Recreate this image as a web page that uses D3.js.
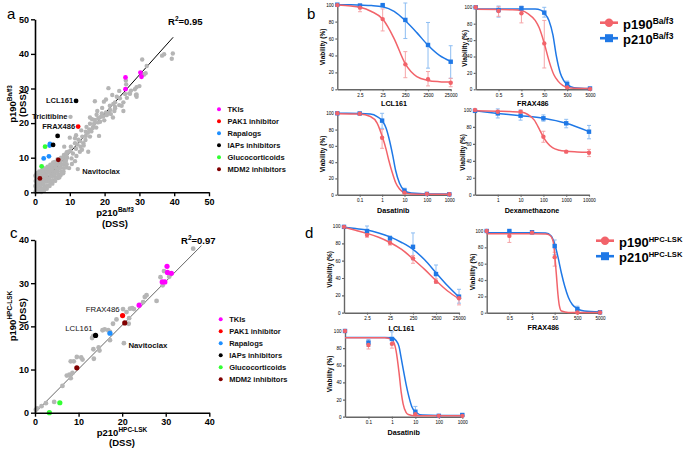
<!DOCTYPE html>
<html><head><meta charset="utf-8">
<script src="https://cdn.jsdelivr.net/npm/d3@7"></script>
<style>body{margin:0;background:#fff}</style>
</head><body><svg id="chart" width="685" height="449"></svg>
<script>
// ---------------- DATA ----------------
// Panel a : DSS p210 (x) vs p190 (y), Ba/f3
const aTicks = [0,10,20,30,40,50];
const aGray = [
[0.2,0.3],[0.4,1.1],[0.1,1.8],[0.5,2.6],[0.2,3.3],[0.4,4.1],[0.1,4.8],[0.5,5.5],[0.3,0.0],
[1.0,0.2],[1.1,1.0],[0.9,2.0],[1.2,2.8],[1.0,3.7],[1.1,4.5],[0.9,5.3],[1.2,6.0],
[1.8,0.1],[1.9,1.1],[1.7,2.1],[2.0,3.0],[1.8,4.0],[1.9,4.9],[1.7,5.8],[2.0,6.4],
[2.6,0.5],[2.7,1.5],[2.5,2.4],[2.8,3.5],[2.6,4.4],[2.7,5.4],[2.5,6.2],[2.8,6.9],
[3.4,1.0],[3.5,2.0],[3.3,3.1],[3.6,4.0],[3.4,5.0],[3.5,6.0],[3.3,6.8],[3.6,7.4],
[4.2,1.8],[4.3,2.9],[4.1,3.8],[4.4,4.8],[4.2,5.8],[4.3,6.6],[4.1,7.3],[4.4,8.0],
[5.0,2.5],[5.1,3.5],[4.9,4.6],[5.2,5.5],[5.0,6.4],[5.1,7.2],[4.9,8.0],[5.2,8.6],
[5.8,3.3],[5.9,4.3],[5.7,5.3],[6.0,6.2],[5.8,7.2],[5.9,8.0],[5.7,8.8],
[6.6,4.1],[6.7,5.1],[6.5,6.0],[6.8,7.0],[6.6,8.0],[6.7,8.9],[6.5,9.6],
[7.4,5.0],[7.5,6.0],[7.3,7.1],[7.6,8.0],[7.4,9.0],[7.5,10.0],
[8.2,6.0],[8.3,7.0],[8.1,8.0],[8.4,9.0],[8.2,10.0],[8.3,10.8],
[9.0,7.2],[9.1,8.1],[8.9,9.1],[9.2,10.0],[9.0,11.0],[9.1,11.6],
[8.1,5.5],[9.8,7.0],[10.6,8.2],[7.0,4.3],[11.5,9.0],
[9.6,11.7],[10.3,13.2],[11.5,14.2],[12.5,15.2],[13.1,13.2],[13.6,16.1],[14.6,17.5],[14.8,18.9],
[15.8,19.8],[16.8,19.1],[17.2,20.9],[18.2,21.4],[18.7,20.4],[17.7,22.4],[19.2,22.8],[20.4,23.1],
[19.6,21.9],[15.3,11.7],[13.9,14.2],[15.8,16.1],[12.9,11.7],[14.5,15.1],[11.5,15.6],[10.0,15.8],
[8.4,13.2],[9.1,10.3],[10.5,9.8],[11.9,10.5],[7.2,9.5],[10.2,12.0],[10.9,11.2],[11.8,12.6],
[12.2,13.8],[13.0,14.8],[13.5,12.3],[14.0,13.5],[14.6,16.3],[15.2,17.2],[15.6,18.2],[16.2,17.6],
[16.6,18.6],[17.0,19.9],[17.6,18.7],[18.1,20.2],[18.9,21.8],[19.9,20.8],[20.6,22.3],[21.2,22.9],
[16.4,21.1],[17.9,23.5],[19.3,24.4],[21.6,23.8],[23.0,24.3],[15.8,21.6],[11.8,16.5],[13.3,17.9],[18.4,16.3],
[21.1,30.1],[24.4,27.2],[25.4,26.0],[25.9,28.4],[24.9,25.0],[25.4,23.5],[23.0,26.0],[22.5,25.5],
[23.5,27.6],[24.2,25.2],[23.0,24.7],[20.4,26.8],[19.8,26.2],[21.5,25.0],[26.1,32.3],[26.2,31.2],
[27.1,28.6],[29.0,28.1],[29.2,30.4],[28.7,29.8],[30.0,30.7],[29.2,27.6],[27.3,28.5],[29.2,28.3],
[31.3,34.0],[30.8,34.2],[31.8,34.4],[32.1,36.5],[30.8,38.4],[36.5,39.5],[37.1,39.9],[39.6,40.1],
[39.3,38.6],[22.8,23.5],[21.8,22.6],[22.4,21.6],[26.4,27.3],[27.6,29.4],[17.2,26.3],[22.2,28.1],[24.2,29.3]
];
const aTKI = [[26.0,33.2],[26.0,29.8],[30.3,34.6],[30.6,33.4]];
const aPAK1 = [[12.4,19.0]];
const aRapa = [[4.3,14.0],[4.2,13.5],[2.5,9.8],[4.0,10.4]];
const aIAP = [[11.8,26.4],[6.5,16.3],[5.2,13.7]];
const aGluco = [[2.9,13.2],[1.9,7.5]];
const aMDM2 = [[6.7,9.4],[1.4,4.0]];
const aFit = [[0,0.3],[39.7,44.8]];
const aNamed = [{name:"LCL161",pt:[11.8,26.4],side:"left"},{name:"Tricitibine",pt:[10.2,21.8],side:"left",gray:true},
                {name:"FRAX486",pt:[12.4,19.0],side:"left"},{name:"Navitoclax",pt:[12.3,6.7],side:"right",gray:true}];

// Panel c : DSS p210 vs p190, HPC-LSK
const cTicks = [0,10,20,30,40];
const cGray = [
[36.3,38.0],[28.8,31.4],[30.8,31.5],[29.3,29.5],[27.9,25.9],[25.2,26.8],[24.8,25.6],[21.8,24.1],[22.3,24.2],
[22.7,24.0],[21.0,23.3],[18.7,21.6],[17.9,20.6],[21.5,20.6],[21.6,21.9],[15.5,19.1],[16.8,19.1],[17.2,18.7],
[13.1,17.3],[13.4,17.8],[17.2,16.8],[13.4,14.7],[14.6,15.1],[14.8,14.4],[13.5,12.5],[9.6,12.9],[10.9,12.3],
[10.6,12.8],[8.2,11.9],[8.9,11.9],[7.3,8.6],[7.9,8.8],[8.6,9.2],[8.2,8.0],[6.3,6.2],[4.4,2.5],[2.5,2.2],
[1.5,1.5],[0.2,0.7],[0.5,1.0],[29.6,32.8],[25.6,27.2],[20.2,24.0],[16.0,19.3]
];
const cTKI = [[30.3,33.9],[30.4,32.5],[31.3,32.3],[29.2,30.3],[29.8,30.3],[23.9,24.9]];
const cPAK1 = [[20.1,22.5]];
const cRapa = [[17.2,18.4]];
const cIAP = [[13.9,17.9]];
const cGluco = [[5.7,2.3],[3.3,0.0]];
const cMDM2 = [[20.6,20.8],[9.6,10.4]];
const cFit = [[0,0],[38.2,38.7]];
const cNamed = [{name:"FRAX486",pt:[20.1,22.5],side:"left"},{name:"LCL161",pt:[13.9,17.9],side:"left"},
                {name:"Navitoclax",pt:[20.4,16.1],side:"right",gray:true,bold:true}];

const groupNames = ["TKIs","PAK1 inhibitor","Rapalogs","IAPs inhibitors","Glucocorticoids","MDM2 inhibitors"];
const groupColors = ["#ff00ff","#ff0000","#1e8fff","#000000","#33ff33","#800000"];

// Dose-response panels (viability %, mean / low / high error; fitted curve)
const yTicksV = [0,20,40,60,80,100];
// b1 LCL161 (Ba/f3)
const b1Doses = [0,2.5,25,250,2500,25000];
const b1RedMean = [99.5,96.5,83,29.5,11.8,7.8], b1RedLo = [99,91.7,69,13.7,4,3], b1RedHi = [100,100.5,95,44.5,21,13];
const b1BlueMean = [100,99,99.5,82,52.4,32.6], b1BlueLo = [100,98,99,60,25,13], b1BlueHi = [100,100,100,102,79,51.5];
const b1CurveDose = [0.25,1,2.5,8,25,80,250,800,2500,8000,25000];
const b1RedCurve = [99.5,98.5,97,92,83,60,30,15,10.5,9,8.5];
const b1BlueCurve = [100,99.8,99.5,99,97.5,92,81,67,52,40,33];
// b2 FRAX486 (Ba/f3)
const b2Doses = [0,0.5,5,50,500,5000];
const b2RedMean = [100,95.5,92.7,56,2.4,0.5], b2RedLo = [100,89,81,26,1.5,0], b2RedHi = [100,100.7,101,84,3.5,1];
const b2BlueMean = [100,96.7,98.8,93.5,6.5,1], b2BlueLo = [100,88,96,88,3,0.5], b2BlueHi = [100,101.5,101.5,100,10,1.5];
const b2RedCurveDose = [0.05,0.5,2,5,10,20,30,50,80,130,200,330,500,1000,5000];
const b2RedCurve = [97.5,97.3,97,96,92,84,75,56,35,18,10,4.5,2.5,1.2,1];
const b2BlueCurveDose = [0.05,0.5,5,20,35,50,80,120,165,250,350,500,1000,5000];
const b2BlueCurve = [98,98,98,97.8,96.5,93,84,66,42,20,11,6,2,1];
// b3 Dasatinib (Ba/f3)
const b3Doses = [0,0.1,1,10,100,1000];
const b3RedMean = [100,99.5,70,2.5,1,0.5], b3RedLo = [100,99,57,1.5,0.5,0], b3RedHi = [100,100,80,3.5,1.5,1];
const b3BlueMean = [100,99.8,91,5,1,0.5], b3BlueLo = [100,99.5,81.5,2,0.5,0], b3BlueHi = [100,100,100,8,2,1];
const b3CurveDose = [0.01,0.1,0.3,0.6,1,1.5,2,3,4,6,10,20,100,1000];
const b3RedCurve = [99.5,99,96,88,72,56,42,25,15,7,2.5,1,0.5,0.5];
const b3BlueCurve = [100,99.8,99,96,91,82,70,48,30,14,5,2,1,1];
// b4 Dexamethazone (Ba/f3)
const b4Doses = [0,1,10,100,1000,10000];
const b4RedMean = [100,98,98,68.5,50.8,49.6], b4RedLo = [100,97,96.5,61.9,49.5,45], b4RedHi = [100,99.5,99.5,74.9,52,53.5];
const b4BlueMean = [99,96,93.3,90.2,84.3,74.4], b4BlueLo = [98,90.6,88,86.8,79,66], b4BlueHi = [100,101.3,100,94.2,89,81.8];
const b4RedCurveDose = [0.1,1,3,10,20,40,70,100,150,250,500,1000,3000,10000];
const b4RedCurve = [99,98.5,98.3,97.5,95,88,76,68,61,55.5,52.5,51.3,50.5,50];
const b4BlueCurveDose = [0.1,1,10,100,1000,10000];
const b4BlueCurve = [99,96,93.3,90.2,84.3,74.4];
// d1 LCL161 (HPC-LSK)
const d1Doses = [0,2.5,25,250,2500,25000];
const d1RedMean = [99,89.6,80.7,62.7,35.8,16.6], d1RedLo = [98,87,78,57,34,9], d1RedHi = [100,92.5,84,66,39,20];
const d1BlueMean = [99,94.2,85.8,76,44.6,18.5], d1BlueLo = [98,90,83,61,34,11], d1BlueHi = [100,100,88.5,92,55,27];
const d1CurveDose = [0.25,0.8,2.5,8,25,80,250,800,2500,8000,25000];
const d1RedCurve = [98.5,95,91.5,87,81,73,62,50,37,25,16];
const d1BlueCurve = [98.5,97,95.3,92,87.5,81,73,61,46,31,18];
// d2 FRAX486 (HPC-LSK)
const d2Doses = [0,0.5,5,50,500,5000];
const d2RedMean = [100,94,98,68,0.3,0.3], d2RedLo = [100,86,97,57,0,0], d2RedHi = [100,99,99,74,1,1];
const d2BlueMean = [100,100,98.5,81.6,4.5,0.5], d2BlueLo = [100,99,97.5,71,2,0], d2BlueHi = [100,101,99.5,89,8,1];
const d2RedCurveDose = [0.05,0.5,5,20,30,40,45,50,55,60,70,80,100,200,5000];
const d2RedCurve = [96.5,96.5,96.5,96.3,95,90,84,72,58,45,22,9,2,0.3,0.3];
const d2BlueCurveDose = [0.05,0.5,5,20,35,50,70,100,140,200,300,500,1000,5000];
const d2BlueCurve = [98,98,98,97.5,94,84,68,48,32,19,10,5,2,1];
// d3 Dasatinib (HPC-LSK)
const d3Doses = [0,0.1,1,10,100,1000];
const d3RedMean = [100,83.7,85,3,1,1], d3RedLo = [100,79,80,2,0.5,0.5], d3RedHi = [100,88,89,4,1.5,1.5];
const d3BlueMean = [100,86.5,90.7,5.8,1,2], d3BlueLo = [100,82,84,1,0.5,1], d3BlueHi = [100,90,99,12,1.5,3];
const d3RedCurveDose = [0.01,0.1,0.5,1,1.5,2,2.5,3,4,5,10,100,1000];
const d3RedCurve = [92,92,92,90,77,52,28,15,5,2.5,1,1,1];
const d3BlueCurveDose = [0.01,0.1,0.5,1,1.5,2,2.5,3,4,5,7,10,20,100,1000];
const d3BlueCurve = [92.5,92.5,92.5,92,89,82,68,56,38,26,12,5.5,2,1.5,1.5];

// ---------------- DRAWING ----------------
const FONT = "'Liberation Sans', Arial, Helvetica, sans-serif";
const svg = d3.select("#chart").attr("font-family", FONT);
const RED = "#f2636a", BLUE = "#1f78e6", RED_E = "#f5a5a8", BLUE_E = "#8dbdf2";

function supText(t, base, sup, supSize, rise){
  t.append("tspan").text(base);
  t.append("tspan").attr("font-size", supSize).attr("dy", -rise).text(sup);
}

function styleAxis(a, col, w, fs, bold){
  a.select(".domain").attr("stroke", col).attr("stroke-width", w);
  a.selectAll(".tick line").attr("stroke", col).attr("stroke-width", w*0.85);
  a.selectAll("text").attr("font-size", fs).attr("font-weight", bold ? "bold" : "normal")
   .attr("font-family", FONT).attr("fill", "#000");
}

function scatterPanel(o){
  const x = d3.scaleLinear().domain([0, o.max]).range([o.left, o.right]);
  const y = d3.scaleLinear().domain([0, o.max]).range([o.bottom, o.top]);
  const g = svg.append("g");
  g.append("line").attr("x1", x(o.fit[0][0])).attr("y1", y(o.fit[0][1]))
    .attr("x2", x(o.fit[1][0])).attr("y2", y(o.fit[1][1]))
    .attr("stroke", o.fitColor).attr("stroke-width", 1);
  g.append("g").selectAll("circle").data(o.gray).join("circle")
    .attr("cx", d => x(d[0])).attr("cy", d => y(d[1])).attr("r", o.r).attr("fill", "#b5b5b5");
  o.named.filter(n => n.gray).forEach(n => g.append("circle").attr("cx", x(n.pt[0])).attr("cy", y(n.pt[1])).attr("r", o.r).attr("fill", "#b5b5b5"));
  o.groups.forEach((pts, i) => {
    g.append("g").selectAll("circle").data(pts).join("circle")
      .attr("cx", d => x(d[0])).attr("cy", d => y(d[1])).attr("r", o.rc).attr("fill", groupColors[i]);
  });
  const xa = g.append("g").attr("transform", `translate(0,${o.bottom})`)
    .call(d3.axisBottom(x).tickValues(o.ticks).tickSize(4).tickSizeOuter(0).tickPadding(2));
  const ya = g.append("g").attr("transform", `translate(${o.left},0)`)
    .call(d3.axisLeft(y).tickValues(o.ticks).tickSize(4).tickSizeOuter(0).tickPadding(2));
  styleAxis(xa, "#000", 1.6, 9, true);
  styleAxis(ya, "#000", 1.6, 9, true);
  // named points
  o.named.forEach(n => {
    const t = g.append("text").attr("font-size", o.labelSize).attr("font-weight", (o.labelBold || n.bold) ? "bold" : "normal")
      .attr("fill", "#111").text(n.name);
    if (n.side === "left") t.attr("x", x(n.pt[0]) - 3).attr("y", y(n.pt[1]) - o.labelDy).attr("text-anchor", "end");
    else t.attr("x", x(n.pt[0]) + 4.5).attr("y", y(n.pt[1]) + 4.5);
  });
  // R2
  const r = g.append("text").attr("x", o.r2x).attr("y", o.r2y).attr("font-size", 9.5).attr("font-weight", "bold");
  r.append("tspan").text("R");
  r.append("tspan").attr("font-size", 6.5).attr("dy", -4).text("2");
  r.append("tspan").attr("dy", 4).text("=" + o.r2);
  // axis titles
  const tx = g.append("text").attr("x", o.xtitleX).attr("y", o.xtitleY).attr("text-anchor", "middle")
    .attr("font-size", 9.5).attr("font-weight", "bold");
  supText(tx, "p210", o.sup, 6.5, 4);
  g.append("text").attr("x", o.xtitleX).attr("y", o.xtitleY + o.dssGap).attr("text-anchor", "middle")
    .attr("font-size", 9.5).attr("font-weight", "bold").text("(DSS)");
  const ty = g.append("text").attr("transform", `translate(${o.ytitleX},${o.ytitleY}) rotate(-90)`)
    .attr("text-anchor", "middle").attr("font-size", 9.5).attr("font-weight", "bold");
  supText(ty, "p190", o.sup, 6.5, 4);
  g.append("text").attr("transform", `translate(${o.ytitleX + 10},${o.ytitleY2}) rotate(-90)`)
    .attr("text-anchor", "middle").attr("font-size", 9.5).attr("font-weight", "bold").text("(DSS)");
  // legend
  groupNames.forEach((nm, i) => {
    const yy = o.legY + i * 12;
    g.append("circle").attr("cx", o.legX).attr("cy", yy).attr("r", 2).attr("fill", groupColors[i]);
    g.append("text").attr("x", o.legX + 8.5).attr("y", yy + 2.8).attr("font-size", 7.5).attr("font-weight", "bold")
      .attr("fill", "#111").text(nm);
  });
}

scatterPanel({max:50, left:35, right:209, bottom:192.3, top:19.3, ticks:aTicks, gray:aGray,
  groups:[aTKI,aPAK1,aRapa,aIAP,aGluco,aMDM2], fit:aFit, fitColor:"#000", r:2.2, rc:2.4,
  named:aNamed, labelSize:7.5, labelBold:true, labelDy:-2.5, r2:"0.95", r2x:168, r2y:25,
  sup:"Ba/f3", xtitleX:115, xtitleY:215.5, dssGap:11.5, ytitleX:16, ytitleY:104, ytitleY2:104, legX:219, legY:109.3});

scatterPanel({max:40, left:35, right:209.3, bottom:412.7, top:240, ticks:cTicks, gray:cGray,
  groups:[cTKI,cPAK1,cRapa,cIAP,cGluco,cMDM2], fit:cFit, fitColor:"#666", r:2.4, rc:2.6,
  named:cNamed, labelSize:7.8, labelBold:false, labelDy:4, r2:"0.97", r2x:181, r2y:244,
  sup:"HPC-LSK", xtitleX:122, xtitleY:436, dssGap:10, ytitleX:15.5, ytitleY:316, ytitleY2:311, legX:220.7, legY:319.3});

// panel letters
[["a",7,19],["b",307,19],["c",10,238],["d",305,238]].forEach(p =>
  svg.append("text").attr("x", p[1]).attr("y", p[2]).attr("font-size", 15).attr("font-family", FONT).text(p[0]));

function dosePlot(o){
  const lo = o.ticks[0] / 10;
  const x = d3.scaleLog().domain([lo, o.ticks[o.ticks.length-1]]).range([o.x0, o.x1]);
  const y = d3.scaleLinear().domain([0, 100]).range([o.y0, o.y1]);
  const xd = d => x(d === 0 ? lo : d);
  const g = svg.append("g");
  const xa = g.append("g").attr("transform", `translate(0,${o.y0})`)
    .call(d3.axisBottom(x).tickValues(o.ticks).tickFormat(d => String(d)).tickSize(2).tickSizeOuter(0).tickPadding(2));
  const ya = g.append("g").attr("transform", `translate(${o.x0},0)`)
    .call(d3.axisLeft(y).tickValues(yTicksV).tickSize(2).tickSizeOuter(0).tickPadding(1.5));
  styleAxis(xa, "#666", 1.4, 4.6, false);
  styleAxis(ya, "#666", 1.4, 4.6, false);
  const line = d3.line().x(d => xd(d[0])).y(d => y(d[1])).curve(d3.curveMonotoneX);
  const series = [
    {col:BLUE, ecol:BLUE_E, mean:o.blueMean, lo:o.blueLo, hi:o.blueHi, cd:o.blueCurveDose, cv:o.blueCurve, sq:true},
    {col:RED, ecol:RED_E, mean:o.redMean, lo:o.redLo, hi:o.redHi, cd:o.redCurveDose, cv:o.redCurve, sq:false}
  ];
  series.forEach(s => {
    o.doses.forEach((d, i) => {
      const cx = xd(d);
      g.append("line").attr("x1", cx).attr("x2", cx).attr("y1", y(s.lo[i])).attr("y2", y(s.hi[i]))
        .attr("stroke", s.ecol).attr("stroke-width", 1);
      [s.lo[i], s.hi[i]].forEach(v => g.append("line").attr("x1", cx-2).attr("x2", cx+2).attr("y1", y(v)).attr("y2", y(v))
        .attr("stroke", s.ecol).attr("stroke-width", 1));
    });
  });
  series.forEach(s => {
    g.append("path").datum(s.cd.map((d, i) => [d, s.cv[i]])).attr("d", line)
      .attr("fill", "none").attr("stroke", s.col).attr("stroke-width", 1.5);
  });
  series.forEach(s => {
    o.doses.forEach((d, i) => {
      if (s.sq) g.append("rect").attr("x", xd(d)-2.2).attr("y", y(s.mean[i])-2.2).attr("width", 4.4).attr("height", 4.4).attr("fill", s.col);
      else g.append("circle").attr("cx", xd(d)).attr("cy", y(s.mean[i])).attr("r", 2.2).attr("fill", s.col);
    });
  });
  g.append("text").attr("transform", `translate(${o.ylabX},${(o.y0 + o.y1) / 2}) rotate(-90)`)
    .attr("text-anchor", "middle").attr("font-size", 6.5).attr("font-weight", "bold").text("Viability (%)");
  g.append("text").attr("x", (o.x0 + o.x1) / 2).attr("y", o.xlabY).attr("text-anchor", "middle")
    .attr("font-size", 7.2).attr("font-weight", "bold").text(o.title);
}

dosePlot({x0:337.3, x1:450.7, y0:89.3, y1:4.7, ticks:[2.5,25,250,2500,25000], ylabX:325, xlabY:106, title:"LCL161",
  doses:b1Doses, redMean:b1RedMean, redLo:b1RedLo, redHi:b1RedHi, blueMean:b1BlueMean, blueLo:b1BlueLo, blueHi:b1BlueHi,
  redCurveDose:b1CurveDose, redCurve:b1RedCurve, blueCurveDose:b1CurveDose, blueCurve:b1BlueCurve});
dosePlot({x0:475.7, x1:590, y0:89.3, y1:7.3, ticks:[0.5,5,50,500,5000], ylabX:466.5, xlabY:106, title:"FRAX486",
  doses:b2Doses, redMean:b2RedMean, redLo:b2RedLo, redHi:b2RedHi, blueMean:b2BlueMean, blueLo:b2BlueLo, blueHi:b2BlueHi,
  redCurveDose:b2RedCurveDose, redCurve:b2RedCurve, blueCurveDose:b2BlueCurveDose, blueCurve:b2BlueCurve});
dosePlot({x0:337.3, x1:449.3, y0:194.7, y1:113.3, ticks:[0.1,1,10,100,1000], ylabX:325, xlabY:213, title:"Dasatinib",
  doses:b3Doses, redMean:b3RedMean, redLo:b3RedLo, redHi:b3RedHi, blueMean:b3BlueMean, blueLo:b3BlueLo, blueHi:b3BlueHi,
  redCurveDose:b3CurveDose, redCurve:b3RedCurve, blueCurveDose:b3CurveDose, blueCurve:b3BlueCurve});
dosePlot({x0:475, x1:589, y0:194.7, y1:110, ticks:[1,10,100,1000,10000], ylabX:465, xlabY:213, title:"Dexamethazone",
  doses:b4Doses, redMean:b4RedMean, redLo:b4RedLo, redHi:b4RedHi, blueMean:b4BlueMean, blueLo:b4BlueLo, blueHi:b4BlueHi,
  redCurveDose:b4RedCurveDose, redCurve:b4RedCurve, blueCurveDose:b4BlueCurveDose, blueCurve:b4BlueCurve});
dosePlot({x0:344, x1:459, y0:312.7, y1:226, ticks:[2.5,25,250,2500,25000], ylabX:331.5, xlabY:331, title:"LCL161",
  doses:d1Doses, redMean:d1RedMean, redLo:d1RedLo, redHi:d1RedHi, blueMean:d1BlueMean, blueLo:d1BlueLo, blueHi:d1BlueHi,
  redCurveDose:d1CurveDose, redCurve:d1RedCurve, blueCurveDose:d1CurveDose, blueCurve:d1BlueCurve});
dosePlot({x0:486.7, x1:600, y0:312.7, y1:231, ticks:[0.5,5,50,500,5000], ylabX:475, xlabY:329.5, title:"FRAX486",
  doses:d2Doses, redMean:d2RedMean, redLo:d2RedLo, redHi:d2RedHi, blueMean:d2BlueMean, blueLo:d2BlueLo, blueHi:d2BlueHi,
  redCurveDose:d2RedCurveDose, redCurve:d2RedCurve, blueCurveDose:d2BlueCurveDose, blueCurve:d2BlueCurve});
dosePlot({x0:345, x1:462.3, y0:416.7, y1:331, ticks:[0.1,1,10,100,1000], ylabX:332, xlabY:434.5, title:"Dasatinib",
  doses:d3Doses, redMean:d3RedMean, redLo:d3RedLo, redHi:d3RedHi, blueMean:d3BlueMean, blueLo:d3BlueLo, blueHi:d3BlueHi,
  redCurveDose:d3RedCurveDose, redCurve:d3RedCurve, blueCurveDose:d3BlueCurveDose, blueCurve:d3BlueCurve});

// legends for b and d
function doseLegend(lx, ly, sup, supSize){
  const g = svg.append("g");
  [[RED, false, "p190"], [BLUE, true, "p210"]].forEach((s, i) => {
    const yy = ly + i * 15.5;
    g.append("line").attr("x1", lx).attr("x2", lx + 18).attr("y1", yy).attr("y2", yy).attr("stroke", s[0]).attr("stroke-width", 2.6);
    if (s[1]) g.append("rect").attr("x", lx + 5).attr("y", yy - 4).attr("width", 8).attr("height", 8).attr("fill", s[0]);
    else g.append("circle").attr("cx", lx + 9).attr("cy", yy).attr("r", 4.2).attr("fill", s[0]);
    const t = g.append("text").attr("x", lx + 23).attr("y", yy + 6).attr("font-size", 13).attr("font-weight", "bold");
    supText(t, s[2], sup, supSize, 5);
  });
}
doseLegend(600, 22.7, "Ba/f3", 8.5);
doseLegend(596, 240.7, "HPC-LSK", 7.6);
</script></body></html>
